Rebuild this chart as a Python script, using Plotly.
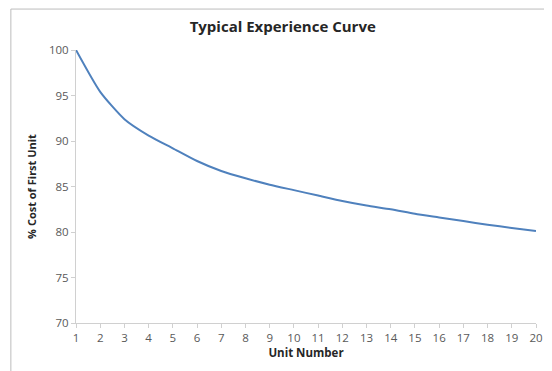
import plotly.graph_objects as go

# values
units = [1, 2, 3, 4, 5, 6, 7, 8, 9, 10, 11, 12, 13, 14, 15, 16, 17, 18, 19, 20]
pct_cost = [100.0, 95.4, 92.4, 90.6, 89.2, 87.8, 86.7, 85.9, 85.2, 84.6,
            84.0, 83.4, 82.9, 82.5, 82.0, 81.6, 81.2, 80.8, 80.45, 80.1]
y_ticks = [70, 75, 80, 85, 90, 95, 100]

FONT = 'Open Sans'
TICK_COLOR = '#595959'
AXIS_COLOR = '#d0d0d0'

fig = go.Figure()
fig.add_trace(go.Scatter(
    x = units,
    y = pct_cost,
    mode = 'lines',
    line = dict(color = '#4f81bd', width = 2, shape = 'spline', smoothing = 0.6),
    showlegend = False,
))

# the page body adds an 8px offset, so the figure is a bit smaller than the window
fig.update_layout(
    width = 544,
    height = 363,
    margin = dict(l = 68, r = 9, t = 42, b = 48),
    paper_bgcolor = 'white',
    plot_bgcolor = 'white',
    title = dict(
        text = '<b>Typical Experience Curve</b>',
        x = 0.505, xanchor = 'center',
        y = 0.948, yanchor = 'middle',
        font = dict(family = FONT, size = 15, color = '#262626'),
    ),
    font = dict(family = FONT),
)

fig.update_xaxes(
    range = [1, 20],
    tickvals = units,
    showgrid = False,
    zeroline = False,
    showline = True, linecolor = AXIS_COLOR, linewidth = 1,
    ticks = 'outside', ticklen = 4, tickcolor = AXIS_COLOR,
    tickfont = dict(family = FONT, size = 11.5, color = TICK_COLOR),
    title = dict(text = '<b>Unit Number</b>', standoff = 3,
                 font = dict(family = FONT, size = 11.5, color = '#262626')),
)

fig.update_yaxes(
    range = [70, 100],
    tickvals = y_ticks,
    showgrid = False,
    zeroline = False,
    showline = True, linecolor = AXIS_COLOR, linewidth = 1,
    ticks = 'outside', ticklen = 4, tickcolor = AXIS_COLOR,
    tickfont = dict(family = FONT, size = 11.5, color = TICK_COLOR),
    title = dict(text = '<b>% Cost of First Unit</b>', standoff = 10,
                 font = dict(family = FONT, size = 11, color = '#262626')),
)

# outer chart border (bottom edge runs off the image, as in the reference)
fig.add_shape(
    type = 'rect', xref = 'paper', yref = 'paper',
    x0 = -0.1416, x1 = 1.026, y0 = -0.25, y1 = 1.150,
    line = dict(color = '#bcbcbc', width = 1),
    layer = 'below',
)

fig.write_html('out.html')
